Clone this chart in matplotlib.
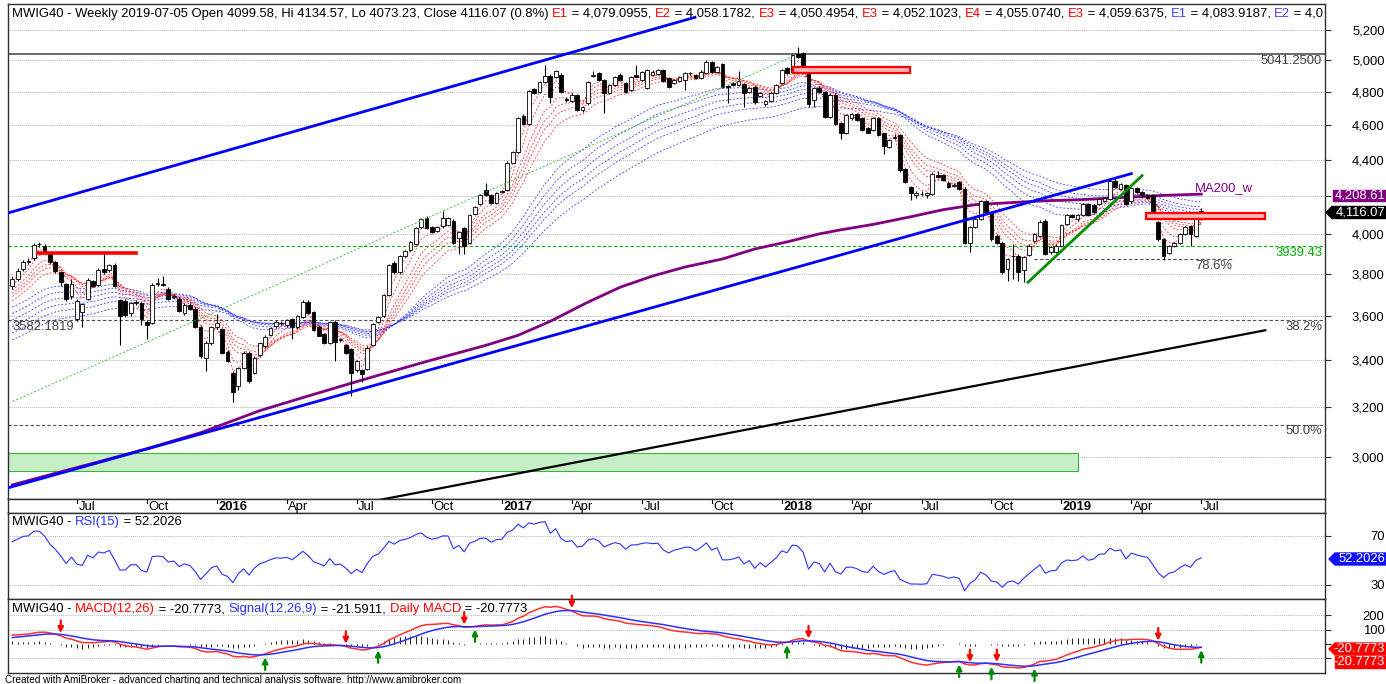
import numpy as np
import pandas as pd
import matplotlib
matplotlib.use("Agg")
import matplotlib.pyplot as plt
import matplotlib.ticker as mticker
from matplotlib.patches import Rectangle, Polygon
from matplotlib.text import Annotation

plt.rcParams["font.family"] = ["Liberation Sans", "DejaVu Sans"]

# ---- weekly bars, first bar is the week ending 2015-04-10 ----
first_week = "2015-04-10"

opens = [3741, 3776, 3822, 3855, 3875, 3945, 3939, 3897, 3855, 3806,
         3749, 3690, 3583, 3617, 3680, 3763, 3746, 3822, 3817, 3843,
         3674, 3670, 3611, 3660, 3658, 3570, 3567, 3748, 3750, 3727,
         3688, 3677, 3611, 3651, 3633, 3550, 3411, 3474, 3546, 3538,
         3437, 3345, 3288, 3367, 3431, 3345, 3422, 3462, 3511, 3553,
         3566, 3557, 3583, 3546, 3593, 3666, 3617, 3550, 3515, 3477,
         3570, 3490, 3466, 3448, 3356, 3356, 3360, 3466, 3571, 3600,
         3696, 3851, 3809, 3886, 3918, 3947, 4036, 4080, 4034, 4016,
         4039, 4046, 4068, 3976, 4028, 3952, 4104, 4157, 4229, 4206,
         4163, 4220, 4232, 4383, 4444, 4655, 4604, 4818, 4797, 4864,
         4902, 4895, 4906, 4755, 4741, 4779, 4689, 4729, 4900, 4916,
         4873, 4791, 4843, 4906, 4853, 4812, 4906, 4873, 4826, 4906,
         4910, 4937, 4884, 4853, 4866, 4873, 4916, 4906, 4884, 4916,
         4985, 4927, 4972, 4835, 4853, 4843, 4847, 4797, 4833, 4777,
         4723, 4741, 4791, 4853, 4948, 4927, 5038, 5044, 4916, 4750,
         4826, 4800, 4649, 4779, 4609, 4550, 4639, 4663, 4639, 4583,
         4571, 4643, 4550, 4472, 4525, 4540, 4349, 4247, 4202, 4210,
         4202, 4211, 4316, 4312, 4271, 4255, 4275, 4238, 3952, 4034,
         4078, 4170, 4113, 3990, 3952, 3822, 3885, 3888, 3820, 3892,
         3964, 3990, 4068, 3906, 3909, 3939, 4051, 4095, 4074, 4095,
         4154, 4148, 4157, 4171, 4184, 4279, 4238, 4257, 4170, 4240,
         4221, 4205, 4205, 4060, 3973, 3903, 3939, 3952, 3999, 4038,
         3990, 4099.58]

highs = [3790, 3825, 3865, 3878, 3952, 3960, 3948, 3905, 3862, 3812,
         3755, 3772, 3680, 3660, 3778, 3770, 3825, 3902, 3848, 3850,
         3680, 3680, 3665, 3672, 3665, 3578, 3755, 3780, 3786, 3735,
         3700, 3685, 3658, 3660, 3640, 3555, 3485, 3552, 3607, 3545,
         3445, 3352, 3372, 3440, 3438, 3418, 3480, 3510, 3548, 3578,
         3575, 3585, 3590, 3605, 3672, 3675, 3622, 3555, 3520, 3575,
         3578, 3500, 3472, 3455, 3400, 3362, 3460, 3565, 3598, 3702,
         3845, 3860, 3892, 3918, 3963, 4035, 4082, 4090, 4040, 4040,
         4116, 4085, 4075, 4015, 4035, 4100, 4145, 4207, 4271, 4212,
         4222, 4230, 4390, 4450, 4650, 4665, 4812, 4825, 4870, 4968,
         4910, 4940, 4915, 4770, 4790, 4785, 4715, 4870, 4933, 4925,
         4880, 4850, 4897, 4915, 4860, 4897, 4968, 4930, 4945, 4935,
         4945, 4945, 4890, 4880, 4897, 4923, 4925, 4912, 4935, 4998,
         4992, 4965, 4980, 4845, 4860, 4931, 4855, 4832, 4840, 4800,
         4748, 4798, 4850, 4944, 4955, 5040, 5082, 5050, 4925, 4832,
         4835, 4808, 4790, 4790, 4615, 4665, 4670, 4670, 4645, 4590,
         4650, 4650, 4555, 4515, 4545, 4547, 4355, 4255, 4225, 4225,
         4222, 4328, 4335, 4318, 4278, 4270, 4282, 4245, 4040, 4085,
         4178, 4178, 4120, 3998, 3958, 3878, 3947, 3895, 3888, 3945,
         4005, 4070, 4075, 3937, 3945, 4052, 4100, 4102, 4100, 4163,
         4160, 4155, 4190, 4192, 4290, 4300, 4268, 4265, 4250, 4248,
         4228, 4210, 4212, 4065, 3980, 3940, 3958, 4003, 4040, 4045,
         4092, 4134.57]

lows = [3725, 3765, 3812, 3845, 3868, 3932, 3905, 3848, 3805, 3740,
        3668, 3680, 3575, 3547, 3672, 3735, 3740, 3800, 3810, 3735,
        3466, 3595, 3600, 3650, 3557, 3492, 3560, 3740, 3740, 3675,
        3680, 3615, 3605, 3625, 3545, 3410, 3353, 3468, 3540, 3425,
        3390, 3222, 3270, 3360, 3300, 3340, 3415, 3455, 3505, 3545,
        3555, 3550, 3492, 3540, 3588, 3608, 3530, 3505, 3472, 3470,
        3395, 3480, 3428, 3246, 3350, 3304, 3355, 3460, 3565, 3595,
        3690, 3800, 3800, 3880, 3910, 3940, 4030, 4025, 4005, 4010,
        4030, 4040, 3945, 3897, 3897, 3945, 4100, 4150, 4200, 4158,
        4158, 4215, 4228, 4378, 4440, 4598, 4598, 4785, 4790, 4858,
        4729, 4885, 4790, 4740, 4735, 4682, 4680, 4722, 4895, 4866,
        4669, 4785, 4838, 4866, 4795, 4805, 4890, 4866, 4820, 4900,
        4905, 4860, 4826, 4846, 4860, 4812, 4908, 4878, 4878, 4910,
        4920, 4920, 4826, 4729, 4836, 4836, 4709, 4790, 4728, 4770,
        4716, 4735, 4785, 4846, 4910, 4920, 5015, 4950, 4710, 4710,
        4790, 4640, 4640, 4598, 4520, 4545, 4632, 4624, 4565, 4550,
        4565, 4533, 4434, 4465, 4515, 4332, 4268, 4175, 4190, 4200,
        4190, 4205, 4298, 4278, 4240, 4250, 4232, 3945, 3906, 4028,
        4070, 4105, 3965, 3945, 3800, 3765, 3775, 3762, 3760, 3885,
        3958, 3985, 3890, 3898, 3902, 3932, 4045, 4080, 4068, 4090,
        4090, 4105, 4150, 4165, 4178, 4240, 4232, 4150, 4160, 4212,
        4195, 4185, 4095, 3965, 3866, 3895, 3932, 3945, 3992, 3939,
        3985, 4073.23]

closes = [3773, 3813, 3855, 3863, 3943, 3947, 3914, 3855, 3813, 3757,
          3680, 3748, 3670, 3654, 3770, 3742, 3817, 3807, 3840, 3742,
          3600, 3602, 3658, 3662, 3583, 3557, 3747, 3753, 3745, 3680,
          3692, 3622, 3651, 3630, 3550, 3418, 3477, 3546, 3567, 3433,
          3395, 3262, 3367, 3433, 3309, 3411, 3474, 3504, 3542, 3570,
          3564, 3578, 3546, 3600, 3666, 3614, 3535, 3509, 3477, 3570,
          3482, 3492, 3433, 3345, 3395, 3341, 3455, 3560, 3593, 3697,
          3840, 3807, 3888, 3914, 3959, 4031, 4077, 4031, 4011, 4034,
          4081, 4080, 3952, 4009, 3936, 4095, 4139, 4202, 4206, 4163,
          4217, 4223, 4383, 4444, 4643, 4604, 4805, 4791, 4864, 4902,
          4771, 4931, 4797, 4750, 4783, 4689, 4709, 4864, 4906, 4873,
          4791, 4843, 4890, 4873, 4802, 4890, 4895, 4922, 4937, 4927,
          4937, 4866, 4833, 4873, 4890, 4916, 4916, 4884, 4927, 4991,
          4927, 4958, 4833, 4833, 4843, 4866, 4791, 4826, 4735, 4794,
          4741, 4791, 4843, 4937, 4916, 5033, 5023, 4958, 4723, 4826,
          4800, 4649, 4783, 4604, 4550, 4659, 4663, 4630, 4571, 4555,
          4643, 4540, 4478, 4510, 4530, 4339, 4275, 4217, 4217, 4211,
          4217, 4321, 4303, 4285, 4247, 4260, 4238, 3952, 4034, 4078,
          4170, 4113, 3973, 3952, 3809, 3872, 3885, 3807, 3880, 3939,
          3999, 4063, 3897, 3931, 3939, 4046, 4095, 4086, 4095, 4157,
          4095, 4113, 4184, 4187, 4279, 4247, 4263, 4157, 4240, 4218,
          4202, 4190, 4100, 3973, 3888, 3936, 3952, 3999, 4034, 3999,
          4083, 4116.07]

# 200-week MA (bar index, value)
ma200_bars = [0, 9, 16, 25, 35, 46, 54, 61, 68, 77, 88, 94, 100, 107, 113, 119, 125,
              132, 138, 144, 150, 154, 160, 167, 173, 179, 185, 192, 198, 204, 210, 214, 221]
ma200_vals = [2896, 2945, 2983, 3034, 3097, 3186, 3240, 3287, 3334, 3394, 3465, 3510, 3574,
              3663, 3734, 3788, 3832, 3872, 3922, 3958, 3999, 4020, 4048, 4088, 4125, 4152,
              4162, 4173, 4178, 4187, 4196, 4202, 4208.61]

# Guppy EMAs: periods and their values at the first bar
short_periods = [3, 5, 8, 10, 12, 15]
short_start = [3765, 3745, 3720, 3705, 3690, 3670]
long_periods = [30, 35, 40, 45, 50, 60]
long_start = [3640, 3610, 3580, 3550, 3520, 3490]

# indicator start state
rsi_period = 15
rsi_start_gain, rsi_start_loss = 28.0, 15.0
macd_start_fast, macd_start_slow, macd_start_signal = 3745.0, 3682.0, 45.0

sell_bars = [9, 62, 84, 104, 148, 178, 183, 213]
buy_bars = [47, 68, 86, 144, 176, 182, 190, 221]

# drawn studies (bar index pairs, price pairs)
channel_top = ([-0.8, 126.9], [4108, 5283])
channel_bottom = ([-0.8, 208.0], [2885, 4321])
long_support = ([66.5, 232.9], [2834, 3533])
green_trend = ([188.8, 210.0], [3758, 4310])
green_dotted = ([0.1, 145.1], [3224, 5025])
red_level = ([4.8, 23.0], [3901, 3901])
level_5041 = 5041.25
level_3939 = 3939.43
level_382 = 3582.18
level_500 = 3129.0
level_786 = ([190.0, 226.7], 3872.0)
red_zone_1 = ([145.1, 166.9], [4916, 4953])
red_zone_2 = ([210.8, 232.9], [4077, 4109])
green_zone = ([-0.8, 198.1], [2949, 3018])

price_ticks = [3000, 3200, 3400, 3600, 3800, 4000, 4200, 4400, 4600, 4800, 5000, 5200]

# ---------------------------------------------------------------
opens, highs, lows, closes = map(np.array, (opens, highs, lows, closes))
n = len(closes)
bars = np.arange(n)
dates = pd.date_range(first_week, periods=n, freq="W-FRI")


def ema(values, period, start):
    a = 2.0 / (period + 1)
    out = np.empty(len(values))
    prev = start
    for i, v in enumerate(values):
        if i > 0:
            prev = prev + a * (v - prev)
        out[i] = prev
    return out


def wilder_rsi(values, period, gain, loss):
    out = [100 - 100 / (1 + gain / loss)]
    for i in range(1, len(values)):
        d = values[i] - values[i - 1]
        gain = (gain * (period - 1) + max(d, 0)) / period
        loss = (loss * (period - 1) + max(-d, 0)) / period
        out.append(100 - 100 / (1 + gain / loss))
    return np.array(out)


rsi = wilder_rsi(closes, rsi_period, rsi_start_gain, rsi_start_loss)
macd = ema(closes, 12, macd_start_fast) - ema(closes, 26, macd_start_slow)
signal = ema(macd, 9, macd_start_signal)
hist = macd - signal

W, H = 1386, 684
fig = plt.figure(figsize=(W / 100, H / 100), dpi=100)
fig.patch.set_facecolor("white")


def fx(x):
    return x / W


def fy(y):
    return 1 - y / H


def add_ax(top, bottom, left=8, right=1325):
    a = fig.add_axes([fx(left), fy(bottom), fx(right) - fx(left), fy(top) - fy(bottom)])
    a.set_xlim(-0.8, 244.0)
    for s in a.spines.values():
        s.set_color("#303030")
        s.set_linewidth(1)
    a.tick_params(axis="x", bottom=False, labelbottom=False)
    return a


FS = 9.35
GRID = dict(color="#b8b8b8", linestyle=(0, (1, 1)), linewidth=0.7)


def right_axis(a, ticks, fmt, hidden=()):
    # labels hidden behind the value tags are left blank
    a.set_yticks(ticks)
    a.yaxis.set_minor_locator(mticker.NullLocator())
    a.yaxis.set_major_formatter(mticker.FuncFormatter(lambda v, p: "" if v in hidden else fmt(v)))
    a.tick_params(axis="y", left=False, labelleft=False, right=True, labelright=True,
                  length=4, color="#303030", pad=(58 - 4) * 0.72, labelsize=FS)
    for lbl in a.get_yticklabels():
        lbl.set_horizontalalignment("right")


# ---------------- price pane ----------------
ax = add_ax(4, 499)
ax.set_yscale("log")
ax.set_ylim(2844, 5374)
right_axis(ax, price_ticks, lambda v: f"{v:,.0f}", hidden=(4200,))
for lvl in price_ticks:
    ax.axhline(lvl, zorder=1, **GRID)

gz = green_zone
ax.add_patch(Rectangle((gz[0][0], gz[1][0]), gz[0][1] - gz[0][0], gz[1][1] - gz[1][0],
                       facecolor="#c6efc6", edgecolor="#3cb43c", lw=0.8, zorder=1.5))

for p, s in zip(long_periods, long_start):
    ax.plot(bars, ema(closes, p, s), color="#2a2aff", lw=0.65, ls=(0, (2, 2)), alpha=0.85, zorder=2)
for p, s in zip(short_periods, short_start):
    ax.plot(bars, ema(closes, p, s), color="#ff2020", lw=0.65, ls=(0, (2, 2)), alpha=0.85, zorder=2.1)

ax.plot(ma200_bars, ma200_vals, color="#800080", lw=2, zorder=2.5)

ax.axhline(level_5041, color="#505050", lw=1.2, zorder=2)
ax.axhline(level_3939, color="#00b000", lw=0.8, ls=(0, (3, 2)), zorder=2)
ax.axhline(level_382, color="#505050", lw=0.8, ls=(0, (3, 2)), zorder=2)
ax.axhline(level_500, color="#505050", lw=0.8, ls=(0, (3, 2)), zorder=2)
ax.plot(level_786[0], [level_786[1]] * 2, color="#505050", lw=0.8, ls=(0, (3, 2)), zorder=2)

up = closes >= opens
body_lo = np.minimum(opens, closes)
body_hi = np.maximum(opens, closes)
ax.vlines(bars, lows, highs, color="black", lw=0.8, zorder=3)
ax.bar(bars, body_hi - body_lo, bottom=body_lo, width=0.7,
       color=np.where(up, "white", "black"), edgecolor="black", linewidth=0.6, zorder=4)

ax.plot(*channel_top, color="#0000ff", lw=2, zorder=5)
ax.plot(*channel_bottom, color="#0000ff", lw=2, zorder=5)
ax.plot(*long_support, color="black", lw=1.6, zorder=5)
ax.plot(*green_trend, color="#009000", lw=2, zorder=5)
ax.plot(*green_dotted, color="#40c040", lw=0.7, ls=(0, (2, 2)), zorder=5)
ax.plot(*red_level, color="#ff0000", lw=2.6, zorder=5)
for zone in (red_zone_1, red_zone_2):
    ax.add_patch(Rectangle((zone[0][0], zone[1][0]), zone[0][1] - zone[0][0], zone[1][1] - zone[1][0],
                           facecolor="#ffb8b8", edgecolor="#ff0000", lw=1.6, zorder=5))

# ---------------- date strip ----------------
axd = add_ax(499, 513)
axd.set_ylim(0, 1)
axd.set_yticks([])
for i in range(1, n):
    d = dates[i]
    if d.month != dates[i - 1].month and d.month in (1, 4, 7, 10):
        year = d.month == 1
        axd.plot([i, i], [1, 0.72], color="black", lw=0.8)
        axd.text(i + 0.3, 0.42, str(d.year) if year else d.strftime("%b"), ha="left", va="center",
                 fontsize=FS, fontweight="bold" if year else "normal")

# ---------------- RSI pane ----------------
axr = add_ax(513, 599)
axr.set_ylim(18.6, 88.4)
right_axis(axr, [30, 70], lambda v: f"{v:.0f}")
for lvl in (30, 70):
    axr.axhline(lvl, **GRID)
axr.plot(bars, rsi, color="#3030ff", lw=0.8)

# ---------------- MACD pane ----------------
axm = add_ax(599, 673)
axm.set_ylim(-203, 315)
right_axis(axm, [-100, 0, 100, 200], lambda v: f"{v:.0f}", hidden=(0, -100))
for lvl in (-100, 100, 200):
    axm.axhline(lvl, **GRID)
axm.vlines(bars, 0, hist, color="#202020", lw=0.7)
axm.plot(bars, macd, color="#ff3030", lw=1.1)
axm.plot(bars, signal, color="#3030ff", lw=1.1)
for i in sell_bars:
    axm.annotate("", xy=(i, macd[i]), xytext=(0, 11), textcoords="offset points",
                 arrowprops=dict(arrowstyle="-|>", color="#ff0000", lw=1.6, mutation_scale=8,
                                 shrinkA=0, shrinkB=2), annotation_clip=False)
for i in buy_bars:
    axm.annotate("", xy=(i, min(macd[i], signal[i])), xytext=(0, -11), textcoords="offset points",
                 arrowprops=dict(arrowstyle="-|>", color="#008800", lw=1.6, mutation_scale=8,
                                 shrinkA=0, shrinkB=2), annotation_clip=False)


# ---------------- texts ----------------
def rich(xpx, ypx, parts, size=FS):
    t = fig.text(fx(xpx), fy(ypx), parts[0][0], color=parts[0][1], fontsize=size,
                 ha="left", va="baseline")
    for s, c in parts[1:]:
        t = fig.add_artist(Annotation(s, xy=(1, 0), xycoords=t, color=c, fontsize=size,
                                      ha="left", va="bottom"))
    return t


RED, BLU, BLK = "#ff0000", "#4040ff", "black"
rich(12, 17, [("MWIG40 - Weekly 2019-07-05 Open 4099.58, Hi 4134.57, Lo 4073.23, Close 4116.07 (0.8%) ", BLK),
              ("E1", RED), (" = 4,079.0955, ", BLK), ("E2", RED), (" = 4,058.1782, ", BLK),
              ("E3", RED), (" = 4,050.4954, ", BLK), ("E3", RED), (" = 4,052.1023, ", BLK),
              ("E4", RED), (" = 4,055.0740, ", BLK), ("E3", RED), (" = 4,059.6375, ", BLK),
              ("E1", BLU), (" = 4,083.9187, ", BLK), ("E2", BLU), (" = 4,0", BLK)])
rich(12, 525, [("MWIG40 - ", BLK), ("RSI(15)", "#3030ff"), (" = 52.2026", BLK)])
rich(12, 612, [("MWIG40 - ", BLK), ("MACD(12,26)", RED), (" = -20.7773, ", BLK),
               ("Signal(12,26,9)", "#3030ff"), (" = -21.5911, ", BLK),
               ("Daily MACD", RED), (" = -20.7773", BLK)])

fig.text(fx(1322), fy(61), "5041.2500", ha="right", va="center", fontsize=FS, color="#404040")
fig.text(fx(1322), fy(253), "3939.43", ha="right", va="center", fontsize=FS, color="#00b000")
fig.text(fx(12), fy(327), "3582.1819", ha="left", va="center", fontsize=FS, color="#404040")
fig.text(fx(1322), fy(327), "38.2%", ha="right", va="center", fontsize=FS, color="#404040")
fig.text(fx(1322), fy(431), "50.0%", ha="right", va="center", fontsize=FS, color="#404040")
fig.text(fx(1232), fy(266), "78.6%", ha="right", va="center", fontsize=FS, color="#404040")
fig.text(fx(1195), fy(188), "MA200_w", ha="left", va="center", fontsize=FS, color="#800080")


def tag(ypx, text, face, left, arrow):
    h = 12
    pts = [(left, ypx - h / 2), (W, ypx - h / 2), (W, ypx + h / 2), (left, ypx + h / 2)]
    if arrow:
        pts.append((left - 6, ypx))
    fig.add_artist(Polygon([(fx(a), fy(b)) for a, b in pts], closed=True, transform=fig.transFigure,
                           facecolor=face, edgecolor=face, zorder=10))
    fig.text(fx(W - 1), fy(ypx), text, color="white", ha="right", va="center", fontsize=FS, zorder=11)


tag(195.5, "4,208.61", "#800080", 1333, False)
tag(212.5, "4,116.07", "black", 1332, True)
tag(559, "52.2026", "#1010ff", 1335, True)
tag(649, "-20.7773", "#ff0000", 1335, True)
tag(662, "-20.7773", "#ff0000", 1335, False)

fig.text(fx(5), fy(680), "Created with AmiBroker - advanced charting and technical analysis software. "
         "http://www.amibroker.com", fontsize=7.2, ha="left", va="center")

fig.savefig("out.png", dpi=100)
